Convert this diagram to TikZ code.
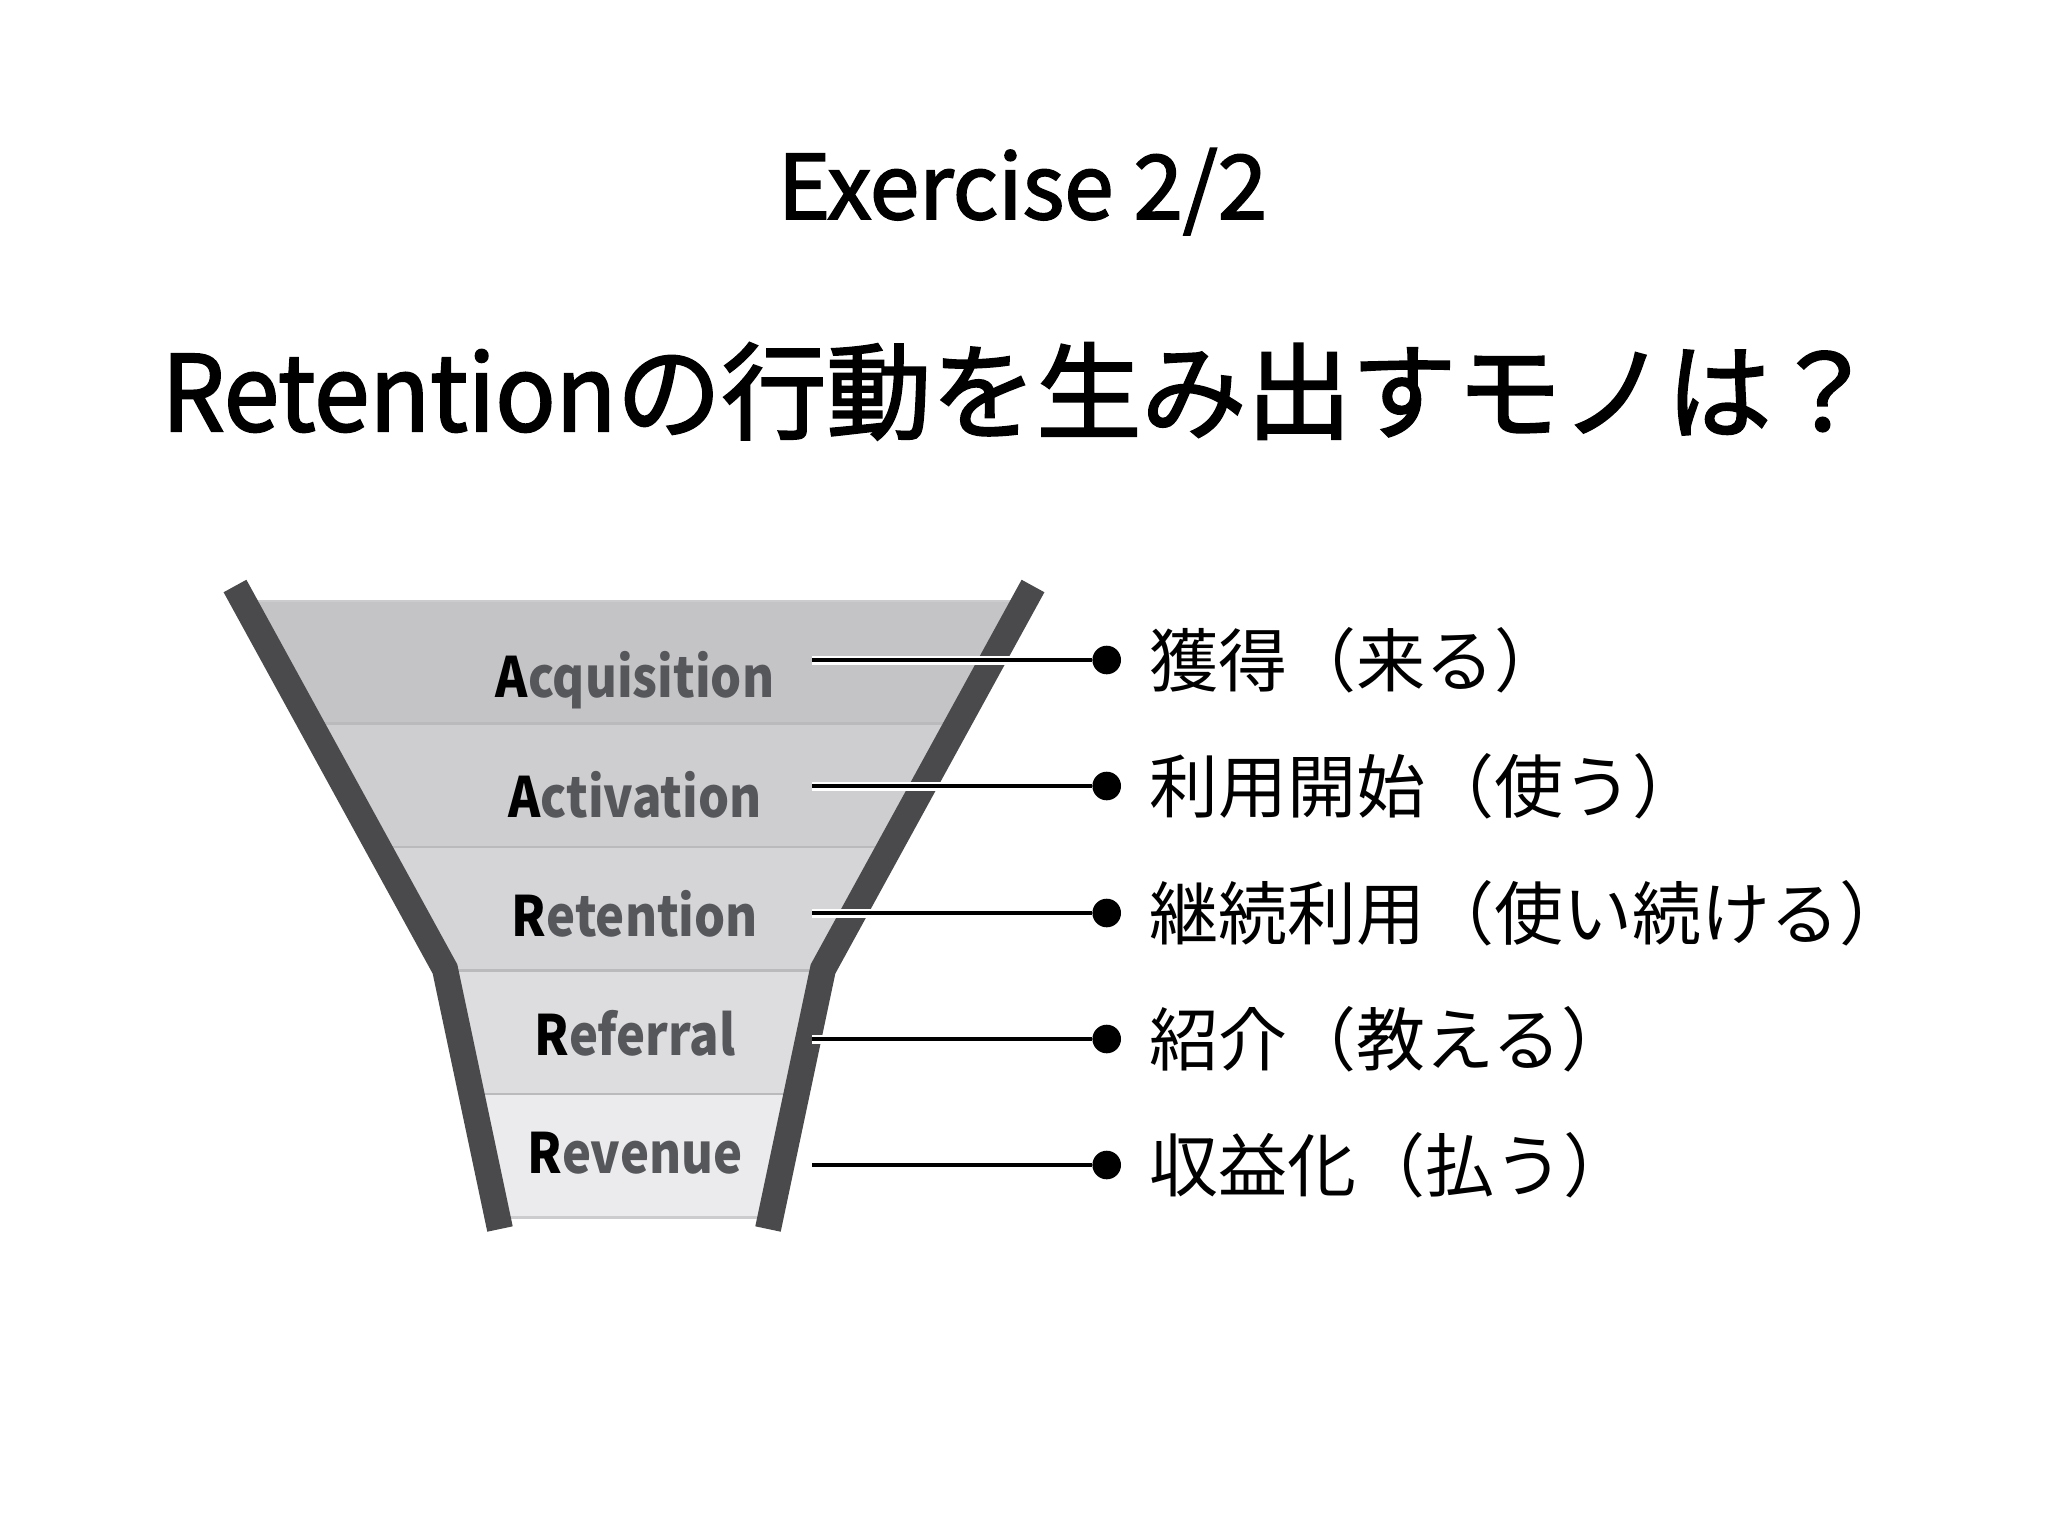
\documentclass[tikz,border=0pt]{standalone}
\usepackage{fontspec}
\setmainfont{Noto Sans CJK JP}
\newfontfamily\headfont[FakeBold=2]{Noto Sans CJK JP}
\definecolor{funnelgray}{RGB}{74,74,76}
\definecolor{bandA}{RGB}{196,196,198}
\definecolor{bandB}{RGB}{206,206,208}
\definecolor{bandC}{RGB}{213,213,215}
\definecolor{bandD}{RGB}{221,221,223}
\definecolor{bandE}{RGB}{235,235,237}
\definecolor{sepgray}{RGB}{186,186,188}
\definecolor{edgegray}{RGB}{204,204,206}
\definecolor{labelgray}{RGB}{85,87,91}
\tikzset{
  funnelline/.style={line width=13pt, draw=funnelgray, line cap=butt, line join=miter},
  sepline/.style={draw=sepgray, line width=1.25pt},
  halo/.style={draw=white, line width=4.5pt},
  conn/.style={draw=black, line width=2.25pt},
  bullet/.style={circle, fill=black, inner sep=0pt, minimum size=14.3pt},
  jplabel/.style={anchor=base west, inner sep=0pt, font=\fontsize{34.5pt}{40pt}\selectfont},
  bandlabel/.style={anchor=base, inner sep=0pt, text=labelgray, font=\bfseries\fontsize{27.8pt}{32pt}\selectfont},
}
\newcommand{\bandtext}[2]{\scalebox{0.88}[1]{\textcolor{black}{#1}#2}}
\begin{document}
\begin{tikzpicture}[x=0.5pt,y=-0.5pt]
\fill[white] (0,0) rectangle (2048,1536);
\useasboundingbox (0,0) rectangle (2048,1536);

% titles
\node[anchor=base, inner sep=0pt, font=\headfont\fontsize{44.5pt}{50pt}\selectfont] (title) at (1022.5,219) {Exercise 2/2};
\node[anchor=base, inner sep=0pt, font=\headfont\fontsize{52.5pt}{60pt}\selectfont] (subtitle) at (1019,431) {\scalebox{0.95}[1]{Retention}の行動を生み出すモノは？};

% funnel bands
\begin{scope}
  \clip (235,586) -- (445,969) -- (500,1229) -- (768,1229) -- (823,969) -- (1033,586) -- cycle;
  \fill[bandA] (0,600) rectangle (2048,723.5);
  \fill[bandB] (0,723.5) rectangle (2048,847);
  \fill[bandC] (0,847) rectangle (2048,970.5);
  \fill[bandD] (0,970.5) rectangle (2048,1094);
  \fill[bandE] (0,1094) rectangle (2048,1217.5);
  \draw[edgegray, line width=1pt] (0,600.5) -- (2048,600.5);
  \draw[sepline] (0,723.5) -- (2048,723.5);
  \draw[sepline] (0,847) -- (2048,847);
  \draw[sepline] (0,970.5) -- (2048,970.5);
  \draw[sepline] (0,1094) -- (2048,1094);
  \draw[edgegray, line width=1.25pt] (0,1217.5) -- (2048,1217.5);
\end{scope}

% funnel walls
\draw[funnelline] (235,586) -- (445,969) -- (500,1229);
\draw[funnelline] (1033,586) -- (823,969) -- (768,1229);

% band labels
\node[bandlabel] (acq) at (635,697) {\bandtext{A}{cquisition}};
\node[bandlabel] (act) at (635,817) {\bandtext{A}{ctivation}};
\node[bandlabel] (ret) at (635,936) {\bandtext{R}{etention}};
\node[bandlabel] (ref) at (635,1055) {\bandtext{R}{eferral}};
\node[bandlabel] (rev) at (635,1173) {\bandtext{R}{evenue}};

% connectors
\foreach \i/\y in {1/660,2/786,3/913,4/1039,5/1165}{
  \coordinate (c\i) at (812,\y);
  \node[bullet] (b\i) at (1106.7,\y) {};
  \draw[halo] (c\i) -- (b\i);
  \draw[conn] (c\i) -- (b\i);
}

% japanese labels
\node[jplabel] (l1) at (1149,686) {獲得（来る）};
\node[jplabel] (l2) at (1149,812) {利用開始（使う）};
\node[jplabel] (l3) at (1149,939) {継続利用（使い続ける）};
\node[jplabel] (l4) at (1149,1065) {紹介（教える）};
\node[jplabel] (l5) at (1149,1191) {収益化（払う）};
\end{tikzpicture}
\end{document}
